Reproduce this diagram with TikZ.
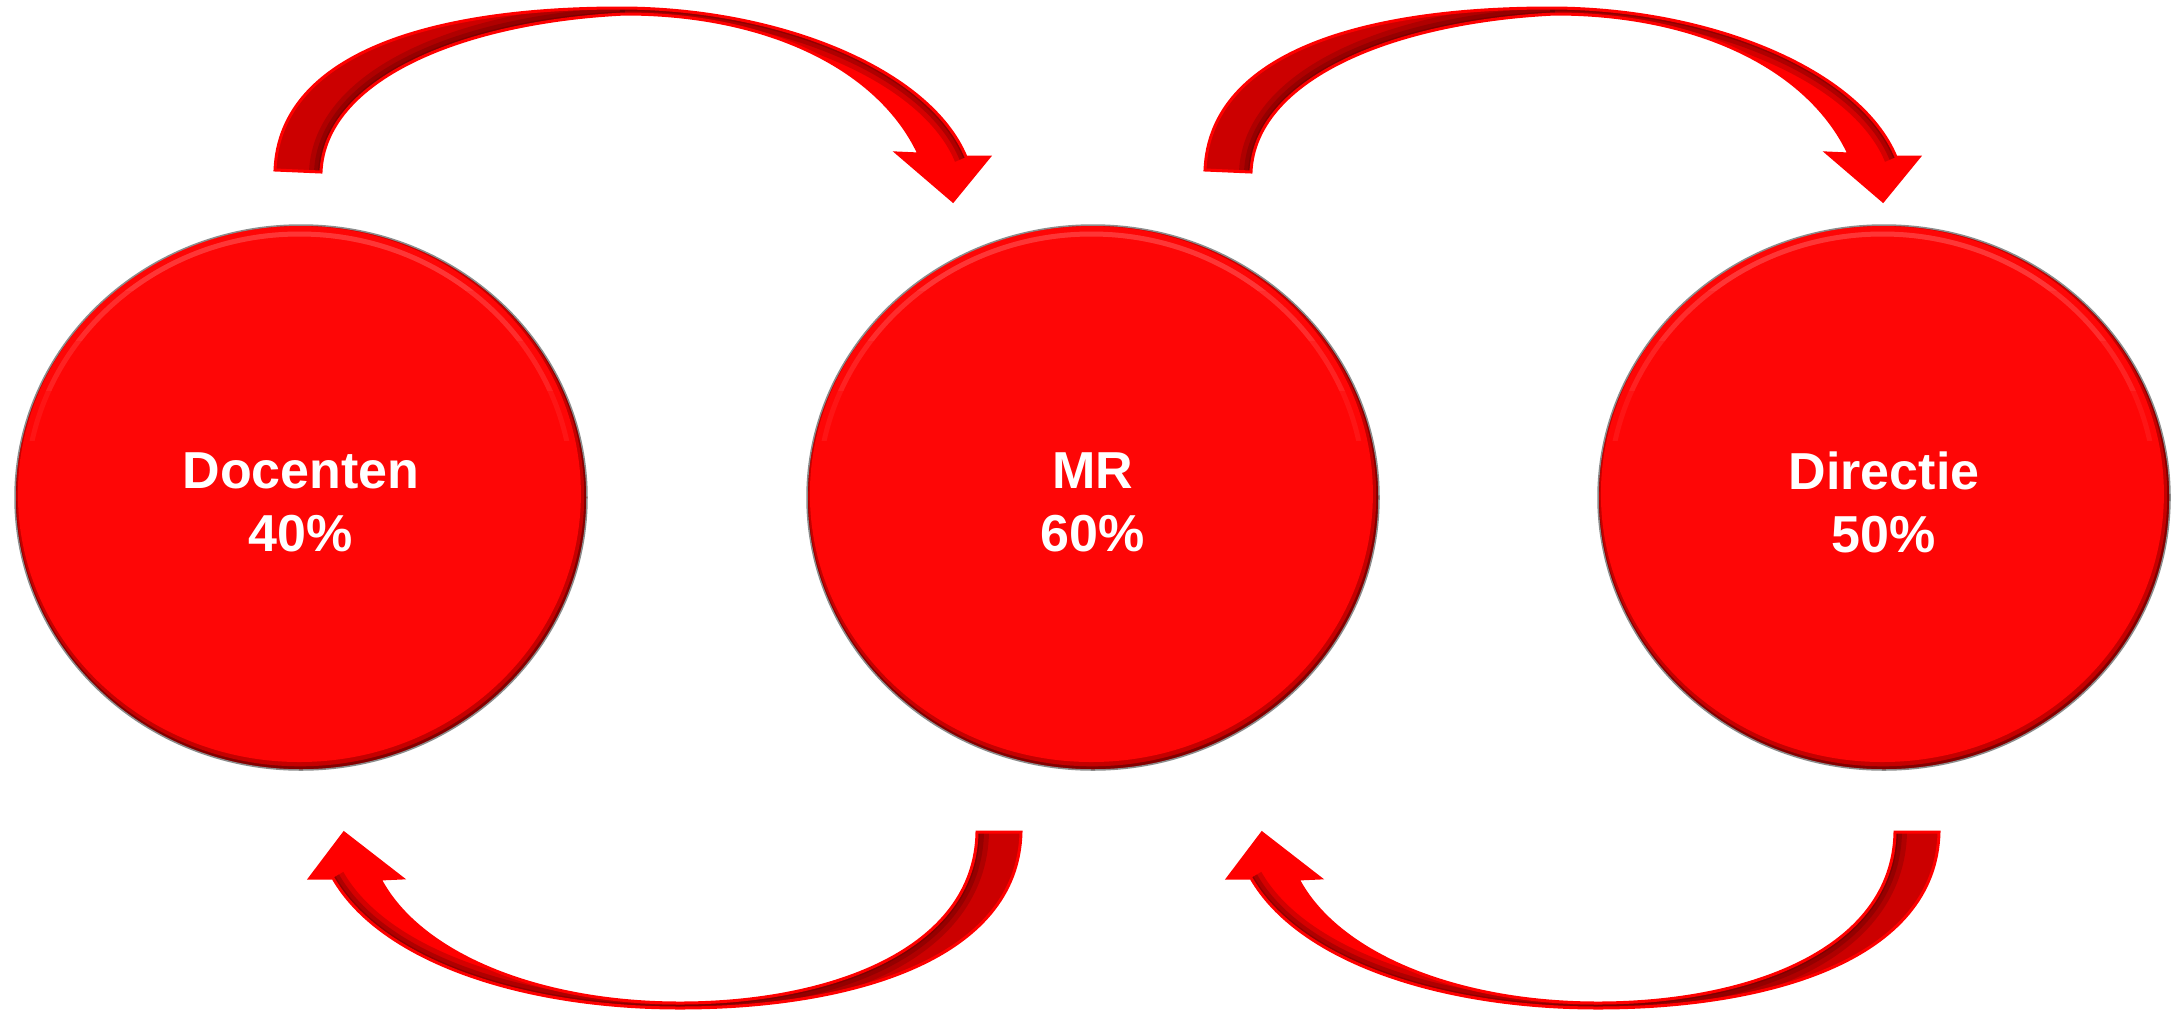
\documentclass[tikz,border=0pt]{standalone}
\usepackage{fontspec}
\setmainfont{Liberation Sans}
\definecolor{discred}{HTML}{FE0606}
\definecolor{discmid}{HTML}{C40000}
\definecolor{discdark}{HTML}{840000}
\definecolor{discrim}{HTML}{8C8C8C}
\definecolor{discglow}{HTML}{FF7A7A}
\definecolor{arrdark}{HTML}{CC0000}
\definecolor{arrbright}{HTML}{FF0000}
\definecolor{arrshadow}{HTML}{5A0000}
\pgfdeclarehorizontalshading{ribbon}{100bp}{color(0bp)=(arrdark); color(25bp)=(arrdark); color(46bp)=(arrdark); color(55bp)=(arrbright); color(75bp)=(arrbright); color(100bp)=(arrbright)}

% curved arrow over the discs, pointing down-right
\def\toppath{(321,172) .. controls (325,80) and (460,22) .. (625,14) .. controls (770,14) and (880,70) .. (919,154) -- (897,153) -- (953,201) -- (989,157) -- (966,157) .. controls (930,70) and (780,8) .. (620,8) .. controls (440,8) and (280,50) .. (275,170) -- cycle}
% curved arrow under the discs, pointing up-left
\def\botpath{(977,832) .. controls (975,950) and (830,1003) .. (680,1003) .. controls (540,1003) and (420,955) .. (380,879) -- (402,878) -- (344,833) -- (310,878) -- (333,878) .. controls (380,960) and (520,1008) .. (680,1008) .. controls (850,1008) and (1018,960) .. (1021,832) -- cycle}

\newcommand\toparrow[1]{%
  \begin{scope}[xshift=#1]
    \shade[shading=ribbon] \toppath;
    \begin{scope}
      \clip \toppath;
      \foreach \w/\o in {24/.25,14/.3,6/.35}{
        \draw[arrshadow, line width=\w, opacity=\o] (321,172) .. controls (325,80) and (460,22) .. (625,14);
        \draw[arrshadow, line width=\w, opacity=\o] (620,8) .. controls (780,8) and (930,70) .. (966,157);
      }
    \end{scope}
    \draw[arrbright, line width=3] \toppath;
  \end{scope}}

\newcommand\botarrow[1]{%
  \begin{scope}[xshift=#1]
    \shade[shading=ribbon, shading angle=180] \botpath;
    \begin{scope}
      \clip \botpath;
      \foreach \w/\o in {24/.25,14/.3,6/.35}{
        \draw[arrshadow, line width=\w, opacity=\o] (977,832) .. controls (975,950) and (830,1003) .. (680,1003);
        \draw[arrshadow, line width=\w, opacity=\o] (680,1008) .. controls (520,1008) and (380,960) .. (333,878);
      }
    \end{scope}
    \draw[arrbright, line width=3] \botpath;
  \end{scope}}

\newcommand\disc[1]{%
  \fill[discdark] (#1,497.5) ellipse [x radius=286pt, y radius=272.5pt];
  \fill[discmid] (#1-0.8,495.8) ellipse [x radius=284pt, y radius=270.5pt];
  \fill[discred] (#1-1.6,494) ellipse [x radius=281.5pt, y radius=268pt];
  % soft light line just inside the upper rim, fading towards the sides
  \foreach \h in {290,340,390,440}{
    \begin{scope}
      \clip (#1-300,200) rectangle (#1+300,\h);
      \draw[discglow, line width=5, opacity=.13] (#1-1.6,494) ellipse [x radius=273pt, y radius=260pt];
    \end{scope}
  }
  \draw[discrim, line width=1.5] (#1,497.5) ellipse [x radius=286pt, y radius=272.5pt];}

\tikzset{
  disclabel/.style={text=white, align=center, inner sep=0pt,
    font=\fontsize{52}{63}\selectfont\bfseries}
}

\begin{document}
\begin{tikzpicture}[x=1pt, y=-1pt]
  \useasboundingbox (0,0) rectangle (2172,1013);
  \fill[white] (0,0) rectangle (2172,1013);

  % three discs
  \disc{301}
  \disc{1093}
  \disc{1884}
  \node[disclabel] (docenten) at (301,502) {Docenten\\40\%};
  \node[disclabel] (mr) at (1093,502) {MR\\60\%};
  \node[disclabel] (directie) at (1884,502) {Directie\\50\%};

  % arrows between the discs
  \toparrow{0pt}
  \toparrow{930pt}
  \botarrow{0pt}
  \botarrow{918pt}
\end{tikzpicture}
\end{document}
